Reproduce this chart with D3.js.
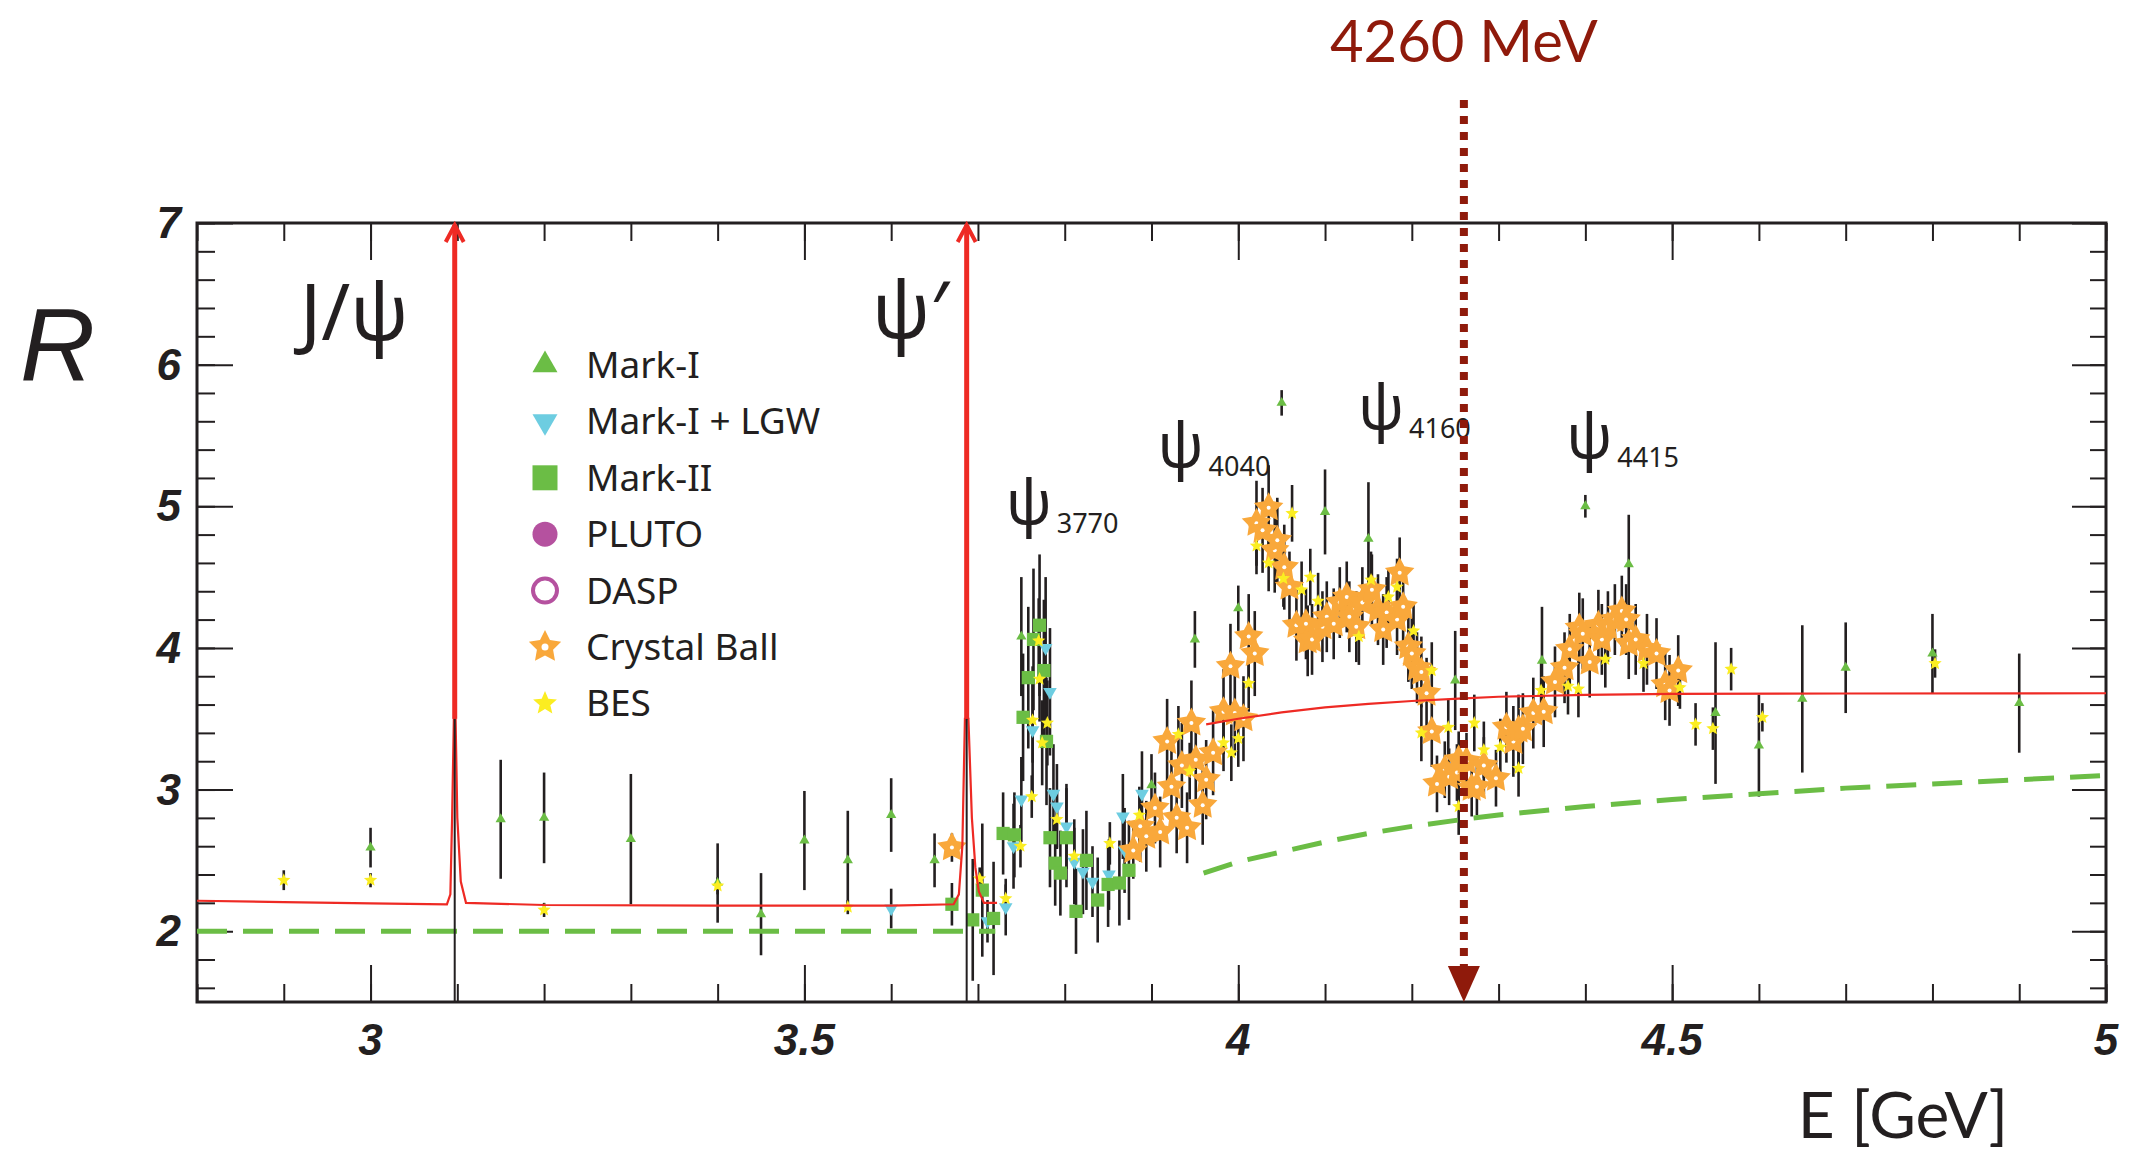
<!DOCTYPE html>
<html>
<head>
<meta charset="utf-8">
<script src="https://cdn.jsdelivr.net/npm/d3@7"></script>
<style>
  html, body { margin: 0; padding: 0; background: #fff; }
  svg { display: block; }
</style>
</head>
<body>
<svg id="chart" width="2130" height="1152"></svg>
<script>
// ---------------- data: [E (GeV), R, error] ----------------
const markI = [
  [3.00, 2.59, 0.14], [3.15, 2.79, 0.42], [3.20, 2.80, 0.32], [3.30, 2.65, 0.46],
  [3.40, 2.34, 0.28], [3.45, 2.12, 0.29], [3.50, 2.64, 0.35], [3.55, 2.50, 0.35],
  [3.60, 2.82, 0.26], [3.65, 2.50, 0.19], [3.75, 4.08, 0.42], [3.90, 3.03, 0.22],
  [3.95, 4.06, 0.20], [4.00, 4.28, 0.16], [4.05, 5.73, 0.09], [4.10, 4.96, 0.30],
  [4.15, 4.77, 0.40], [4.25, 3.77, 0.35], [4.35, 3.91, 0.38], [4.40, 5.00, 0.08],
  [4.45, 4.59, 0.35], [4.55, 3.54, 0.50], [4.60, 3.31, 0.36], [4.65, 3.64, 0.52],
  [4.70, 3.86, 0.32], [4.80, 3.96, 0.28], [4.90, 3.61, 0.35]
];

const markILGW = [
  [3.600, 2.16, 0.14], [3.711, 2.07, 0.15], [3.732, 2.17, 0.20], [3.741, 2.60, 0.30],
  [3.750, 2.93, 0.30], [3.763, 3.42, 0.45], [3.778, 4.00, 0.50], [3.783, 3.69, 0.45],
  [3.787, 2.97, 0.35], [3.791, 2.88, 0.30], [3.802, 2.74, 0.30], [3.811, 2.49, 0.30],
  [3.821, 2.42, 0.30], [3.832, 2.35, 0.25], [3.851, 2.40, 0.25], [3.867, 2.81, 0.30],
  [3.869, 2.57, 0.30], [3.889, 2.97, 0.30]
];

const markII = [
  [3.670, 2.19, 0.15], [3.694, 2.08, 0.43], [3.705, 2.29, 0.47], [3.718, 2.09, 0.40],
  [3.729, 2.69, 0.29], [3.742, 2.68, 0.30], [3.752, 3.51, 0.45], [3.758, 3.79, 0.50],
  [3.764, 4.06, 0.50], [3.771, 4.16, 0.50], [3.776, 3.84, 0.50], [3.779, 3.34, 0.45],
  [3.783, 2.66, 0.35], [3.789, 2.48, 0.30], [3.795, 2.41, 0.30], [3.802, 2.66, 0.35],
  [3.813, 2.14, 0.30], [3.825, 2.50, 0.35], [3.838, 2.22, 0.30], [3.850, 2.33, 0.30],
  [3.863, 2.34, 0.30], [3.874, 2.43, 0.35]
];

const pluto = [];
const dasp = [];

const crystalBall = [
  [3.670, 2.59, 0.10],
  [3.879, 2.57, 0.20], [3.887, 2.74, 0.25], [3.894, 2.67, 0.25], [3.904, 2.87, 0.25],
  [3.910, 2.70, 0.25], [3.918, 3.34, 0.30], [3.923, 3.02, 0.28], [3.929, 2.80, 0.25],
  [3.935, 3.17, 0.30], [3.941, 2.73, 0.25], [3.946, 3.47, 0.30], [3.951, 3.21, 0.30],
  [3.959, 2.89, 0.28], [3.963, 3.07, 0.28], [3.971, 3.26, 0.30], [3.983, 3.55, 0.30],
  [3.991, 3.87, 0.30], [3.996, 3.54, 0.30], [4.006, 3.50, 0.30], [4.012, 4.08, 0.30],
  [4.019, 3.96, 0.30], [4.021, 4.88, 0.30], [4.028, 4.83, 0.30], [4.035, 4.99, 0.30],
  [4.042, 4.69, 0.30], [4.045, 4.76, 0.30], [4.053, 4.57, 0.30], [4.059, 4.43, 0.25],
  [4.067, 4.16, 0.25], [4.078, 4.17, 0.25], [4.080, 4.05, 0.25], [4.085, 4.06, 0.25],
  [4.097, 4.15, 0.25], [4.102, 4.22, 0.25], [4.110, 4.17, 0.25], [4.117, 4.32, 0.25],
  [4.125, 4.36, 0.25], [4.128, 4.22, 0.25], [4.136, 4.15, 0.25], [4.143, 4.32, 0.25],
  [4.154, 4.41, 0.25], [4.161, 4.27, 0.25], [4.167, 4.13, 0.25], [4.171, 4.25, 0.25],
  [4.183, 4.20, 0.25], [4.186, 4.53, 0.25], [4.190, 4.29, 0.25], [4.196, 4.01, 0.25],
  [4.200, 3.96, 0.25], [4.206, 3.86, 0.25], [4.211, 3.83, 0.25], [4.217, 3.68, 0.25],
  [4.223, 3.41, 0.25], [4.229, 3.04, 0.20], [4.238, 3.14, 0.20], [4.243, 3.09, 0.20],
  [4.252, 3.12, 0.20], [4.254, 3.21, 0.20], [4.263, 3.20, 0.20], [4.269, 3.01, 0.20],
  [4.275, 3.02, 0.20], [4.283, 3.17, 0.20], [4.297, 3.08, 0.20], [4.309, 3.44, 0.25],
  [4.317, 3.34, 0.25], [4.323, 3.42, 0.25], [4.328, 3.43, 0.25], [4.340, 3.54, 0.25],
  [4.352, 3.55, 0.25], [4.365, 3.76, 0.25], [4.376, 3.86, 0.25], [4.382, 3.99, 0.25],
  [4.393, 4.14, 0.25], [4.397, 4.10, 0.25], [4.405, 3.90, 0.25], [4.415, 4.16, 0.25],
  [4.419, 4.06, 0.25], [4.426, 4.15, 0.25], [4.434, 4.20, 0.25], [4.442, 4.26, 0.25],
  [4.447, 4.20, 0.25], [4.450, 4.03, 0.25], [4.458, 4.06, 0.25], [4.471, 3.99, 0.25],
  [4.482, 3.96, 0.25], [4.492, 3.74, 0.25], [4.497, 3.70, 0.25], [4.507, 3.84, 0.25]
];

const bes = [
  [2.900, 2.36, 0.07], [3.000, 2.36, 0.05], [3.200, 2.15, 0.05], [3.400, 2.32, 0.06],
  [3.550, 2.17, 0.05], [3.702, 2.37, 0.08], [3.732, 2.23, 0.10], [3.749, 2.60, 0.15],
  [3.762, 2.95, 0.15], [3.770, 4.05, 0.30], [3.771, 3.78, 0.30], [3.763, 3.49, 0.30],
  [3.780, 3.47, 0.30], [3.774, 3.33, 0.30], [3.791, 2.79, 0.20], [3.811, 2.53, 0.20],
  [3.852, 2.62, 0.15], [3.886, 2.82, 0.20], [3.931, 3.39, 0.20], [3.944, 3.13, 0.20],
  [3.983, 3.33, 0.20], [3.992, 3.26, 0.20], [4.000, 3.36, 0.20], [4.012, 3.75, 0.20],
  [4.021, 4.72, 0.20], [4.035, 4.60, 0.20], [4.052, 4.49, 0.20], [4.062, 4.95, 0.20],
  [4.073, 4.41, 0.20], [4.083, 4.50, 0.20], [4.092, 4.33, 0.20], [4.139, 4.08, 0.20],
  [4.153, 4.48, 0.20], [4.173, 4.36, 0.20], [4.183, 4.43, 0.20], [4.202, 4.12, 0.20],
  [4.211, 3.40, 0.20], [4.223, 3.84, 0.20], [4.242, 3.44, 0.20], [4.254, 2.88, 0.20],
  [4.272, 3.47, 0.20], [4.283, 3.28, 0.20], [4.302, 3.30, 0.20], [4.323, 3.15, 0.20],
  [4.349, 3.70, 0.20], [4.380, 3.73, 0.20], [4.392, 3.71, 0.20], [4.423, 3.92, 0.20],
  [4.467, 3.89, 0.20], [4.509, 3.72, 0.15], [4.527, 3.46, 0.15], [4.547, 3.43, 0.15],
  [4.568, 3.85, 0.15], [4.604, 3.51, 0.10], [4.803, 3.89, 0.10]
];

// theory curve (u, d, s, c with narrow J/psi and psi' peaks), two pieces
const rTheoryLow = [
  [2.800, 2.215], [2.900, 2.205], [3.000, 2.197], [3.088, 2.190], [3.092, 2.260],
  [3.094, 2.800], [3.096, 3.500], [3.098, 3.500], [3.100, 2.800], [3.104, 2.350],
  [3.110, 2.200], [3.200, 2.185], [3.400, 2.180], [3.600, 2.180], [3.672, 2.190],
  [3.678, 2.260], [3.682, 2.600], [3.685, 3.500], [3.689, 3.500], [3.693, 2.800],
  [3.697, 2.450], [3.701, 2.280], [3.707, 2.200], [3.722, 2.200]
];
const rTheoryHigh = [
  [3.963, 3.460], [4.000, 3.500], [4.050, 3.545], [4.100, 3.580], [4.150, 3.605],
  [4.200, 3.625], [4.260, 3.643], [4.300, 3.655], [4.400, 3.668], [4.500, 3.675],
  [4.700, 3.678], [5.000, 3.680]
];

// light-quark (u, d, s) level
const rLightLow = [[2.800, 2.00], [3.720, 2.00]];
const rLightHigh = [
  [3.960, 2.41], [4.000, 2.49], [4.050, 2.56], [4.100, 2.63], [4.150, 2.69],
  [4.200, 2.74], [4.260, 2.79], [4.300, 2.82], [4.400, 2.88], [4.500, 2.93],
  [4.600, 2.97], [4.700, 3.01], [4.800, 3.04], [4.900, 3.07], [5.000, 3.10]
];

// narrow resonances drawn as arrows
const narrowNames = ["J/ψ", "ψ′"];
const narrowMasses = [3.097, 3.687];

// broad resonance labels: subscript text, label anchor (E, R)
const broadNames = ["3770", "4040", "4160", "4415"];
const broadLabelE = [3.732, 3.907, 4.138, 4.378];
const broadLabelR = [4.876, 5.278, 5.547, 5.342];

const markerE = 4.26;
const markerText = "4260 MeV";

const xTickValues = [3, 3.5, 4, 4.5, 5];
const xTickLabels = ["3", "3.5", "4", "4.5", "5"];
const yTickValues = [2, 3, 4, 5, 6, 7];
const yTickLabels = ["2", "3", "4", "5", "6", "7"];

const legendNames = ["Mark-I", "Mark-I + LGW", "Mark-II", "PLUTO", "DASP", "Crystal Ball", "BES"];

// ---------------- styles ----------------
const ink = "#231f20";
const cGreen = "#6bbd45";
const cBlue = "#6dcde1";
const cPurple = "#b5519f";
const cOrange = "#f9a83b";
const cYellow = "#fbed21";
const cRed = "#ee2a24";
const cDarkRed = "#8f1a0b";
const textFont = "'Noto Sans', 'Open Sans', sans-serif";
const axisFont = "'Liberation Sans', Arial, sans-serif";

// ---------------- layout ----------------
const plot = { left: 197, right: 2106, top: 223, bottom: 1002 };
const x = d3.scaleLinear().domain([2.8, 5.0]).range([plot.left, plot.right]);
const y = d3.scaleLinear().domain([1.5, 7.0]).range([plot.bottom, plot.top]);

const svg = d3.select("#chart");
svg.append("rect").attr("width", 2130).attr("height", 1152).attr("fill", "#fff");

// ---------------- axes ----------------
function ticks(axisFn, values, size, tx, ty, scale) {
  const g = svg.append("g")
    .attr("transform", `translate(${tx},${ty})`)
    .call(axisFn(scale).tickValues(values).tickSize(size).tickFormat(""));
  g.select(".domain").remove();
  g.selectAll(".tick line").attr("stroke", ink).attr("stroke-width", 2);
  g.selectAll(".tick text").remove();
}
const xMinor = d3.range(28, 51).map(v => v / 10);
const yMinor = d3.range(8, 36).map(v => v / 5);

ticks(d3.axisBottom, xMinor, -18, 0, plot.bottom, x);
ticks(d3.axisBottom, xTickValues, -37, 0, plot.bottom, x);
ticks(d3.axisTop, xMinor, -18, 0, plot.top, x);
ticks(d3.axisTop, xTickValues, -37, 0, plot.top, x);
ticks(d3.axisLeft, yMinor, -18, plot.left, 0, y);
ticks(d3.axisLeft, yTickValues, -36, plot.left, 0, y);
ticks(d3.axisRight, yMinor, -16, plot.right, 0, y);
ticks(d3.axisRight, yTickValues, -34, plot.right, 0, y);

svg.append("rect")
  .attr("x", plot.left).attr("y", plot.top)
  .attr("width", plot.right - plot.left).attr("height", plot.bottom - plot.top)
  .attr("fill", "none").attr("stroke", ink).attr("stroke-width", 3);

svg.append("g").selectAll("text").data(xTickValues).join("text")
  .attr("x", d => x(d)).attr("y", 1055)
  .attr("text-anchor", "middle")
  .attr("font-family", axisFont).attr("font-size", 44)
  .attr("font-weight", "bold").attr("font-style", "italic")
  .attr("fill", ink)
  .text((d, i) => xTickLabels[i]);

svg.append("g").selectAll("text").data(yTickValues).join("text")
  .attr("x", 181).attr("y", d => y(d) + 15)
  .attr("text-anchor", "end")
  .attr("font-family", axisFont).attr("font-size", 44)
  .attr("font-weight", "bold").attr("font-style", "italic")
  .attr("fill", ink)
  .text((d, i) => yTickLabels[i]);

svg.append("text")
  .attr("x", 20).attr("y", 381)
  .attr("font-family", axisFont).attr("font-size", 104).attr("font-style", "italic")
  .attr("fill", ink).text("R");

svg.append("text")
  .attr("x", 2008).attr("y", 1138).attr("text-anchor", "end")
  .attr("font-family", "Lato, " + textFont).attr("font-size", 64)
  .attr("fill", ink).text("E [GeV]");

// ---------------- markers ----------------
// five-pointed star with a fuller body than d3.symbolStar
function starPath(outer, ratio) {
  const p = d3.path();
  for (let i = 0; i < 10; i++) {
    const r = i % 2 === 0 ? outer : outer * ratio;
    const a = -Math.PI / 2 + i * Math.PI / 5;
    if (i === 0) p.moveTo(r * Math.cos(a), r * Math.sin(a));
    else p.lineTo(r * Math.cos(a), r * Math.sin(a));
  }
  p.closePath();
  return p.toString();
}
const sym = (type, size) => d3.symbol().type(type).size(size)();
const shapes = {
  markI:    { path: sym(d3.symbolTriangle, 46),  fill: cGreen,  rot: 0 },
  markILGW: { path: sym(d3.symbolTriangle, 80),  fill: cBlue,   rot: 180 },
  markII:   { path: sym(d3.symbolSquare, 175),   fill: cGreen,  rot: 0 },
  pluto:    { path: sym(d3.symbolCircle, 120),   fill: cPurple, rot: 0 },
  cb:       { path: starPath(15.5, 0.52),        fill: cOrange, rot: 0, dot: 2 },
  bes:      { path: starPath(7, 0.45),           fill: cYellow, rot: 0 }
};

// all error bars sit underneath the markers
const allSeries = [
  [markI, shapes.markI], [markILGW, shapes.markILGW], [markII, shapes.markII],
  [pluto, shapes.pluto], [dasp, null], [crystalBall, shapes.cb], [bes, shapes.bes]
];
const barLayer = svg.append("g");
const markLayer = svg.append("g");

allSeries.forEach(([data, shape]) => {
  barLayer.append("g").selectAll("line").data(data).join("line")
    .attr("x1", d => x(d[0])).attr("x2", d => x(d[0]))
    .attr("y1", d => y(d[1] - d[2])).attr("y2", d => y(d[1] + d[2]))
    .attr("stroke", ink).attr("stroke-width", 2.6);
  const m = markLayer.append("g").selectAll("g").data(data).join("g")
    .attr("transform", d => `translate(${x(d[0])},${y(d[1])}) rotate(${shape ? shape.rot : 0})`);
  if (!shape) {
    m.append("circle").attr("r", 6).attr("fill", "none")
      .attr("stroke", cPurple).attr("stroke-width", 2);
  } else {
    m.append("path").attr("d", shape.path).attr("fill", shape.fill);
    if (shape.dot) m.append("circle").attr("r", shape.dot).attr("fill", "#fff");
  }
});

// ---------------- curves ----------------
const line = d3.line().x(d => x(d[0])).y(d => y(d[1]));
[rLightLow, rLightHigh].forEach(c => {
  svg.append("path").attr("d", line(c)).attr("fill", "none")
    .attr("stroke", cGreen).attr("stroke-width", 5)
    .attr("stroke-dasharray", "30,16");
});
[rTheoryLow, rTheoryHigh].forEach(c => {
  svg.append("path").attr("d", line(c)).attr("fill", "none")
    .attr("stroke", cRed).attr("stroke-width", 2.2);
});

// narrow resonances: black stem below the arrow, red arrow to the top edge
narrowMasses.forEach(mE => {
  const xm = x(mE);
  svg.append("line").attr("x1", xm).attr("x2", xm)
    .attr("y1", y(1.5)).attr("y2", y(3.5))
    .attr("stroke", ink).attr("stroke-width", 2);
  svg.append("line").attr("x1", xm).attr("x2", xm)
    .attr("y1", y(3.5)).attr("y2", y(7.0) + 2)
    .attr("stroke", cRed).attr("stroke-width", 5);
  svg.append("path")
    .attr("d", `M${xm - 9},${y(7.0) + 19} L${xm},${y(7.0) + 2} L${xm + 9},${y(7.0) + 19}`)
    .attr("fill", "none").attr("stroke", cRed).attr("stroke-width", 4);
});

const labelFont = "'Noto Sans', 'DejaVu Sans', sans-serif";
svg.append("text").attr("x", 300).attr("y", 340)
  .attr("font-family", labelFont).attr("font-size", 78).attr("fill", ink)
  .text(narrowNames[0]);
svg.append("text").attr("x", 872).attr("y", 338)
  .attr("font-family", labelFont).attr("font-size", 78).attr("fill", ink)
  .text(narrowNames[1]);

broadNames.forEach((n, i) => {
  const lx = x(broadLabelE[i]), ly = y(broadLabelR[i]);
  svg.append("text").attr("x", lx).attr("y", ly)
    .attr("font-family", labelFont).attr("font-size", 62).attr("fill", ink).text("ψ");
  svg.append("text").attr("x", lx + 51).attr("y", ly + 9)
    .attr("font-family", labelFont).attr("font-size", 27).attr("fill", ink).text(n);
});

// ---------------- 4260 MeV marker ----------------
const xs = x(markerE);
svg.append("line").attr("x1", xs).attr("x2", xs)
  .attr("y1", 100).attr("y2", 968)
  .attr("stroke", cDarkRed).attr("stroke-width", 8).attr("stroke-dasharray", "8,8");
svg.append("path")
  .attr("d", `M${xs - 16},966 L${xs + 16},966 L${xs},${plot.bottom} Z`)
  .attr("fill", cDarkRed);
svg.append("text").attr("x", xs).attr("y", 62).attr("text-anchor", "middle")
  .attr("font-family", "Lato, " + textFont).attr("font-size", 58)
  .attr("fill", cDarkRed).text(markerText);

// ---------------- legend ----------------
const legendShapes = [
  { path: sym(d3.symbolTriangle, 270), fill: cGreen, rot: 0 },
  { path: sym(d3.symbolTriangle, 270), fill: cBlue, rot: 180 },
  { path: sym(d3.symbolSquare, 625), fill: cGreen, rot: 0 },
  { path: sym(d3.symbolCircle, 491), fill: cPurple, rot: 0 },
  { ring: true },
  { path: starPath(17, 0.5), fill: cOrange, rot: 0, dot: 3.5 },
  { path: starPath(12.5, 0.45), fill: cYellow, rot: 0 }
];
const leg = svg.append("g");
legendNames.forEach((name, i) => {
  const ly = 365 + i * 56.4;
  const s = legendShapes[i];
  const mg = leg.append("g").attr("transform", `translate(545,${ly}) rotate(${s.rot || 0})`);
  if (s.ring) {
    mg.append("circle").attr("r", 12).attr("fill", "none")
      .attr("stroke", cPurple).attr("stroke-width", 4);
  } else {
    mg.append("path").attr("d", s.path).attr("fill", s.fill);
    if (s.dot) mg.append("circle").attr("r", s.dot).attr("fill", "#fff");
  }
  leg.append("text").attr("x", 586).attr("y", ly + 13)
    .attr("font-family", textFont).attr("font-size", 37).attr("fill", ink)
    .text(name);
});
</script>
</body>
</html>
